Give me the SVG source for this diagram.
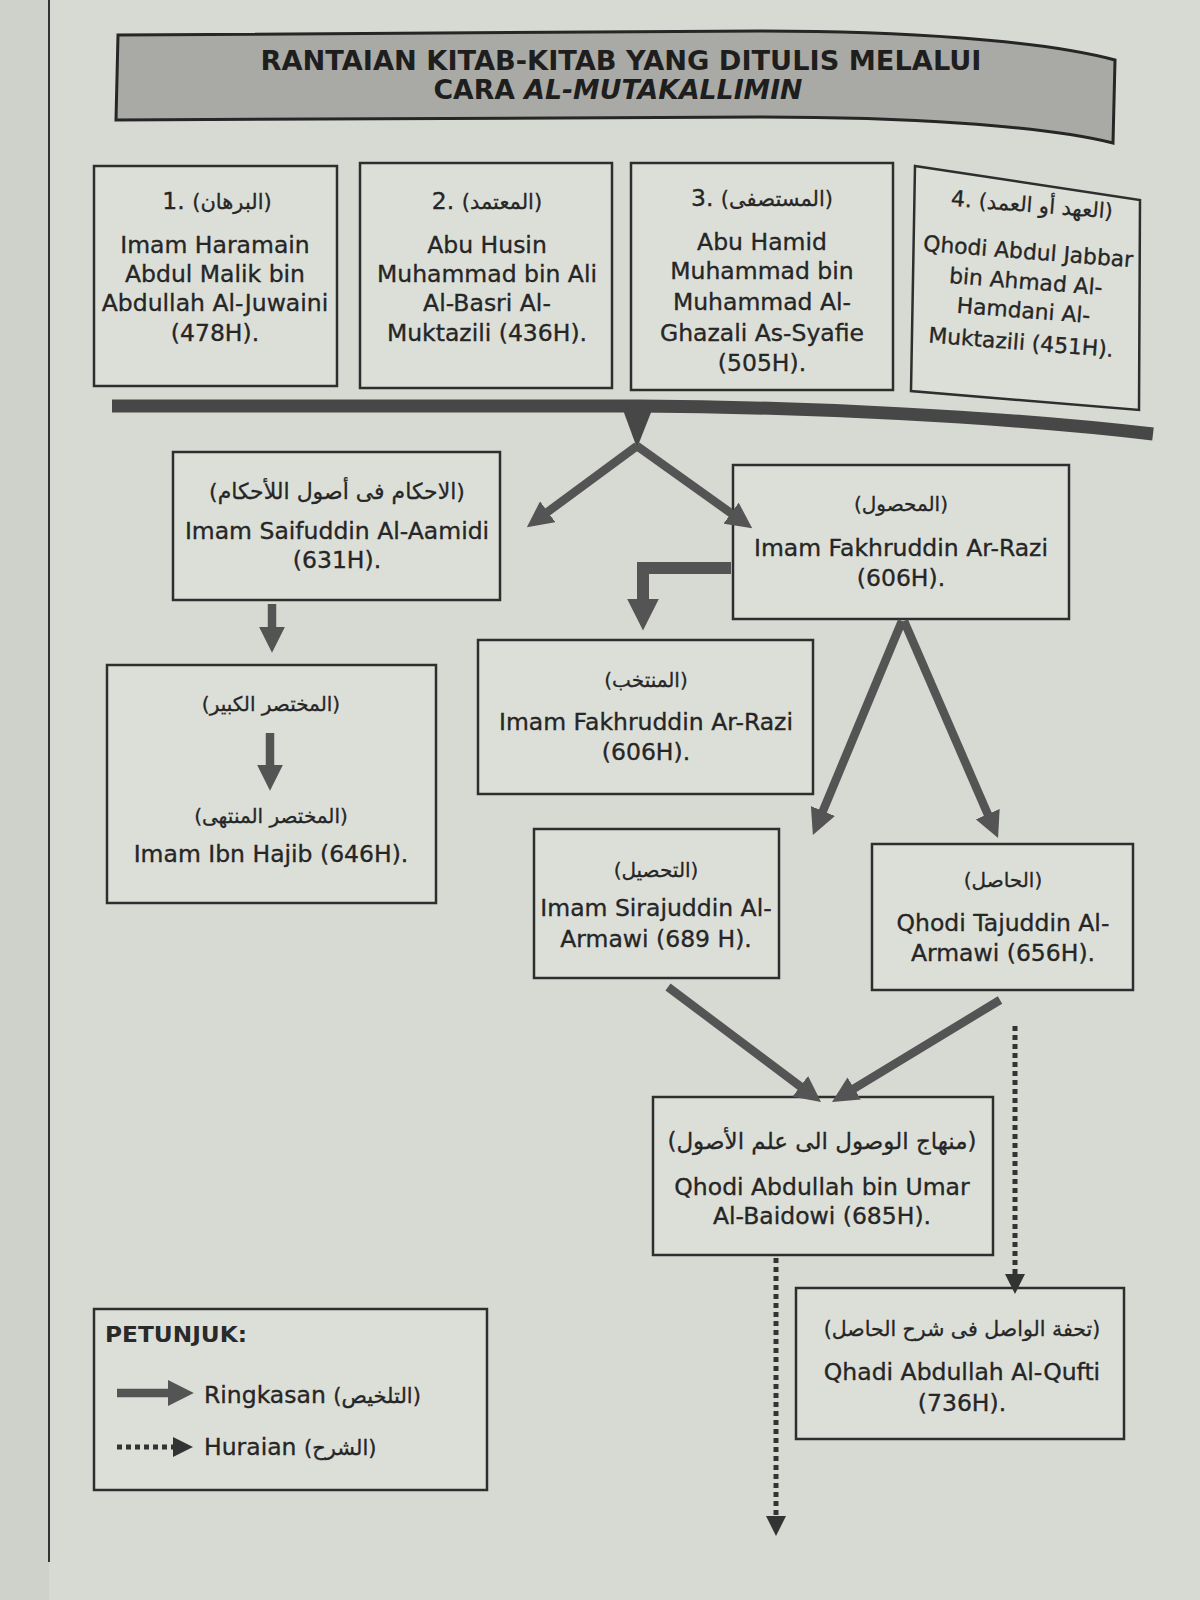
<svg xmlns="http://www.w3.org/2000/svg" width="1200" height="1600" viewBox="0 0 1200 1600">
<style>
.bg{fill:#d7dad3}
.box{fill:#dcdfd8;stroke:#2e2e2e;stroke-width:2.5}
.t{font-family:"DejaVu Sans","Noto Sans",sans-serif;font-size:23.5px;fill:#262626;stroke:#262626;stroke-width:0.35;text-anchor:middle}
.ar{font-family:"DejaVu Sans","Noto Sans",sans-serif;font-size:20px;fill:#262626;stroke:#262626;stroke-width:0.3;text-anchor:middle}
.title{font-family:"DejaVu Sans","Liberation Sans",sans-serif;font-weight:bold;font-size:26px;fill:#1e1e1e;text-anchor:middle}
.sol{fill:none;stroke:#545454;stroke-width:8.5}
.dot{fill:none;stroke:#333;stroke-width:5;stroke-dasharray:5 4}
</style>
<defs>
<marker id="hs" viewBox="0 0 10 10" refX="2" refY="5" markerWidth="26" markerHeight="26" markerUnits="userSpaceOnUse" orient="auto"><path d="M0,0 L10,5 L0,10 z" fill="#545454"/></marker>
<marker id="hb" viewBox="0 0 10 10" refX="2" refY="5" markerWidth="32" markerHeight="32" markerUnits="userSpaceOnUse" orient="auto"><path d="M0,0 L10,5 L0,10 z" fill="#545454"/></marker>
<marker id="hd" viewBox="0 0 10 10" refX="2" refY="5" markerWidth="20" markerHeight="20" markerUnits="userSpaceOnUse" orient="auto"><path d="M0,0 L10,5 L0,10 z" fill="#333"/></marker>
</defs>
<rect class="bg" x="0" y="0" width="1200" height="1600"/>
<rect x="0" y="0" width="49" height="1600" fill="#cfd2cb"/>
<line x1="49" y1="0" x2="49" y2="1562" stroke="#333" stroke-width="2"/>

<g id="title">
<path d="M118,35 L760,31 C900,31 1040,40 1115,60 L1113,143 C1040,125 900,117 760,117 L116,120 Z" fill="#a9aaa5" stroke="#262626" stroke-width="3"/>
<text class="title" x="621" y="70" textLength="721" lengthAdjust="spacingAndGlyphs">RANTAIAN KITAB-KITAB YANG DITULIS MELALUI</text>
<text class="title" x="618" y="99" textLength="369" lengthAdjust="spacingAndGlyphs">CARA <tspan font-style="italic">AL-MUTAKALLIMIN</tspan></text>
</g>

<g id="n1">
<rect class="box" x="94" y="166" width="243" height="220"/>
<text class="t" x="217" y="209">1.  <tspan style="font-size:21px;stroke-width:0.3">(البرهان)</tspan></text>
<text class="t" x="215" y="253">Imam Haramain</text>
<text class="t" x="215" y="282">Abdul Malik bin</text>
<text class="t" x="215" y="311">Abdullah Al-Juwaini</text>
<text class="t" x="215" y="341">(478H).</text>
</g>

<g id="n2">
<rect class="box" x="360" y="163" width="252" height="225"/>
<text class="t" x="487" y="209">2.  <tspan style="font-size:21px;stroke-width:0.3">(المعتمد)</tspan></text>
<text class="t" x="487" y="253">Abu Husin</text>
<text class="t" x="487" y="282">Muhammad bin Ali</text>
<text class="t" x="487" y="311">Al-Basri Al-</text>
<text class="t" x="487" y="341">Muktazili (436H).</text>
</g>

<g id="n3">
<rect class="box" x="631" y="163" width="262" height="227"/>
<text class="t" x="762" y="206">3.  <tspan style="font-size:21px;stroke-width:0.3">(المستصفى)</tspan></text>
<text class="t" x="762" y="250">Abu Hamid</text>
<text class="t" x="762" y="279">Muhammad bin</text>
<text class="t" x="762" y="310">Muhammad Al-</text>
<text class="t" x="762" y="341">Ghazali As-Syafie</text>
<text class="t" x="762" y="371">(505H).</text>
</g>

<g id="n4">
<polygon class="box" points="915,166 1140,200 1139,410 911,391"/>
<g transform="rotate(4.5 1026 280)">
<text class="t" x="1026" y="212" style="font-size:22px">4.  <tspan style="font-size:21px;stroke-width:0.3">(العهد أو العمد)</tspan></text>
<text class="t" x="1026" y="259" style="font-size:21.8px">Qhodi Abdul Jabbar</text>
<text class="t" x="1026" y="289" style="font-size:21.8px">bin Ahmad Al-</text>
<text class="t" x="1026" y="318" style="font-size:21.8px">Hamdani Al-</text>
<text class="t" x="1026" y="350" style="font-size:21.8px">Muktazili (451H).</text>
</g>
</g>

<g id="n5">
<rect class="box" x="173" y="452" width="327" height="148"/>
<text class="ar" x="337" y="499" style="font-size:22px">(الاحكام فى أصول اللأحكام)</text>
<text class="t" x="337" y="539">Imam Saifuddin Al-Aamidi</text>
<text class="t" x="337" y="568">(631H).</text>
</g>

<g id="n6">
<rect class="box" x="733" y="465" width="336" height="154"/>
<text class="ar" x="901" y="511">(المحصول)</text>
<text class="t" x="901" y="556">Imam Fakhruddin Ar-Razi</text>
<text class="t" x="901" y="586">(606H).</text>
</g>

<g id="n7">
<rect class="box" x="107" y="665" width="329" height="238"/>
<text class="ar" x="271" y="711">(المختصر الكبير)</text>
<text class="ar" x="271" y="823">(المختصر المنتهى)</text>
<text class="t" x="271" y="862">Imam Ibn Hajib (646H).</text>
</g>

<g id="n8">
<rect class="box" x="478" y="640" width="335" height="154"/>
<text class="ar" x="646" y="687">(المنتخب)</text>
<text class="t" x="646" y="730">Imam Fakhruddin Ar-Razi</text>
<text class="t" x="646" y="760">(606H).</text>
</g>

<g id="n9">
<rect class="box" x="534" y="829" width="245" height="149"/>
<text class="ar" x="656" y="877">(التحصيل)</text>
<text class="t" x="656" y="916">Imam Sirajuddin Al-</text>
<text class="t" x="656" y="947">Armawi (689 H).</text>
</g>

<g id="n10">
<rect class="box" x="872" y="844" width="261" height="146"/>
<text class="ar" x="1003" y="887">(الحاصل)</text>
<text class="t" x="1003" y="931">Qhodi Tajuddin Al-</text>
<text class="t" x="1003" y="961">Armawi (656H).</text>
</g>

<g id="n11">
<rect class="box" x="653" y="1097" width="340" height="158"/>
<text class="ar" x="822" y="1149" style="font-size:23px">(منهاج الوصول الى علم الأصول)</text>
<text class="t" x="822" y="1195">Qhodi Abdullah bin Umar</text>
<text class="t" x="822" y="1224">Al-Baidowi (685H).</text>
</g>

<g id="n12">
<rect class="box" x="796" y="1288" width="328" height="151"/>
<text class="ar" x="962" y="1336" style="font-size:20.5px">(تحفة الواصل فى شرح الحاصل)</text>
<text class="t" x="962" y="1380">Qhadi Abdullah Al-Qufti</text>
<text class="t" x="962" y="1411">(736H).</text>
</g>

<g id="legend">
<rect class="box" x="94" y="1309" width="393" height="181"/>
<text x="105" y="1342" font-family="DejaVu Sans, sans-serif" font-weight="bold" font-size="21" fill="#2a2a2a" textLength="142" lengthAdjust="spacingAndGlyphs">PETUNJUK:</text>
<line class="sol" x1="117" y1="1393" x2="173" y2="1393" marker-end="url(#hs)"/>
<text x="204" y="1403" font-family="DejaVu Sans, sans-serif" font-size="23.5" fill="#262626" stroke="#262626" stroke-width="0.35">Ringkasan <tspan font-size="21">(التلخيص)</tspan></text>
<line class="dot" x1="117" y1="1447" x2="177" y2="1447" marker-end="url(#hd)"/>
<text x="204" y="1455" font-family="DejaVu Sans, sans-serif" font-size="23.5" fill="#262626" stroke="#262626" stroke-width="0.35">Huraian <tspan font-size="21">(الشرح)</tspan></text>
</g>

<g id="connectors">
<path d="M112,406 L640,406 C800,407 1000,416 1153,434" fill="none" stroke="#474747" stroke-width="13"/>
<polygon points="623,410 652,410 637,448" fill="#474747"/>
<line class="sol" x1="637" y1="446" x2="543.6" y2="514.9" marker-end="url(#hs)"/>
<line class="sol" x1="637" y1="446" x2="735.3" y2="516.2" marker-end="url(#hs)"/>
<line class="sol" x1="272" y1="604" x2="272" y2="632" marker-end="url(#hs)"/>
<polyline fill="none" stroke="#545454" stroke-width="12" points="731,568 643,568 643,605" marker-end="url(#hb)"/>
<line class="sol" x1="270" y1="733" x2="270" y2="770" marker-end="url(#hs)"/>
<line class="sol" x1="902" y1="621" x2="820.9" y2="815.8" marker-end="url(#hs)"/>
<line class="sol" x1="904" y1="621" x2="989.8" y2="818.9" marker-end="url(#hs)"/>
<line class="sol" x1="668" y1="987" x2="804.4" y2="1089.5" marker-end="url(#hs)"/>
<line class="sol" x1="1000" y1="1000" x2="849.8" y2="1091.2" marker-end="url(#hs)"/>
<line class="dot" x1="1015" y1="1026" x2="1015" y2="1278" marker-end="url(#hd)"/>
<line class="dot" x1="776" y1="1258" x2="776" y2="1520" marker-end="url(#hd)"/>
</g>
</svg>
